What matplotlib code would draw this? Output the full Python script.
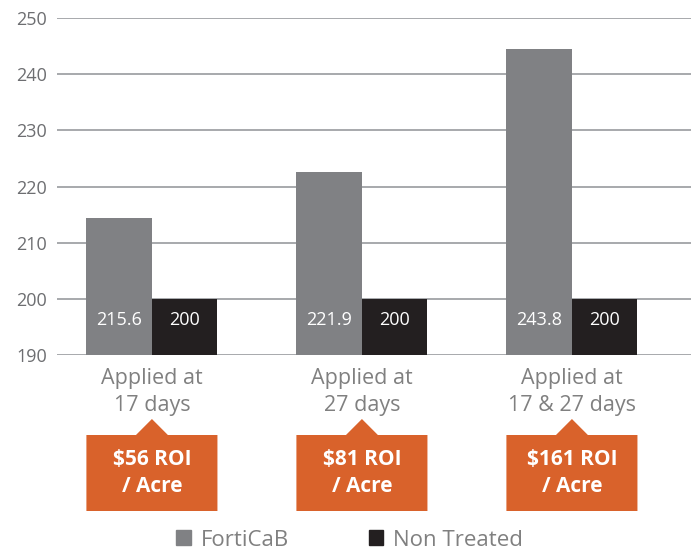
import matplotlib.pyplot as plt
import matplotlib.patches as mpatches
import matplotlib.transforms as mtransforms

categories = ["Applied at\n17 days", "Applied at\n27 days", "Applied at\n17 & 27 days"]
forticab = [214.4, 222.5, 244.5]
non_treated = [200, 200, 200]
forticab_labels = ["215.6", "221.9", "243.8"]
non_treated_labels = ["200", "200", "200"]
roi_labels = ["$56 ROI\n/ Acre", "$81 ROI\n/ Acre", "$161 ROI\n/ Acre"]

gray = "#808184"
black = "#231f20"
orange = "#d9622b"
text_gray = "#6d6e71"

plt.rcParams["font.family"] = ["Open Sans", "DejaVu Sans"]

fig = plt.figure(figsize=(6.91, 5.5), dpi=100)
ax = fig.add_axes([57 / 691, 1 - 355 / 550, 1 - 57 / 691, (355 - 18) / 550])

x = list(range(len(categories)))
w = 0.312
ax.bar([i - w / 2 for i in x], [v - 190 for v in forticab], w, bottom=190, color=gray, zorder=3, label="FortiCaB")
ax.bar([i + w / 2 for i in x], [v - 190 for v in non_treated], w, bottom=190, color=black, zorder=3, label="Non Treated")

for i in x:
    ax.text(i - w / 2, 196.2, forticab_labels[i], ha="center", va="center", color="white", fontsize=13, zorder=4)
    ax.text(i + w / 2, 196.2, non_treated_labels[i], ha="center", va="center", color="white", fontsize=13, zorder=4)

ax.set_ylim(190, 250)
ax.set_yticks(range(190, 251, 10))
ax.set_xlim(-0.452, 2.567)
ax.set_xticks(x)
ax.set_xticklabels(categories, fontsize=15.5, color="#808080", linespacing=1.35)
ax.tick_params(axis="x", length=0, pad=9.5)
ax.tick_params(axis="y", length=0, pad=7, labelsize=13, labelcolor=text_gray)
ax.grid(axis="y", color="#a7a9ac", linewidth=1.4, zorder=0)
for s in ax.spines.values():
    s.set_visible(False)

# ROI callout boxes below each group
trans = mtransforms.blended_transform_factory(ax.transData, fig.transFigure)
top = 1 - 435 / 550
bot = 1 - 511 / 550
tip = 1 - 419 / 550
hw = 0.312
tw = 0.076
for i in x:
    pts = [(i - hw, bot), (i + hw, bot), (i + hw, top), (i + tw, top), (i, tip), (i - tw, top), (i - hw, top)]
    fig.add_artist(mpatches.Polygon(pts, closed=True, transform=trans, facecolor=orange, edgecolor="none"))
    fig.text(i, (top + bot) / 2, roi_labels[i], transform=trans, ha="center", va="center",
             color="white", fontsize=15, fontweight="bold", linespacing=1.35)

handles = [mpatches.Patch(color=gray, label="FortiCaB"), mpatches.Patch(color=black, label="Non Treated")]
leg = fig.legend(handles=handles, loc="center", bbox_to_anchor=(0.506, 1 - 540 / 550), ncol=2,
                 frameon=False, fontsize=16, handlelength=0.65, handleheight=0.65,
                 handletextpad=0.45, columnspacing=3.6)
for t in leg.get_texts():
    t.set_color("#808080")

fig.savefig("out.png", dpi=100)
